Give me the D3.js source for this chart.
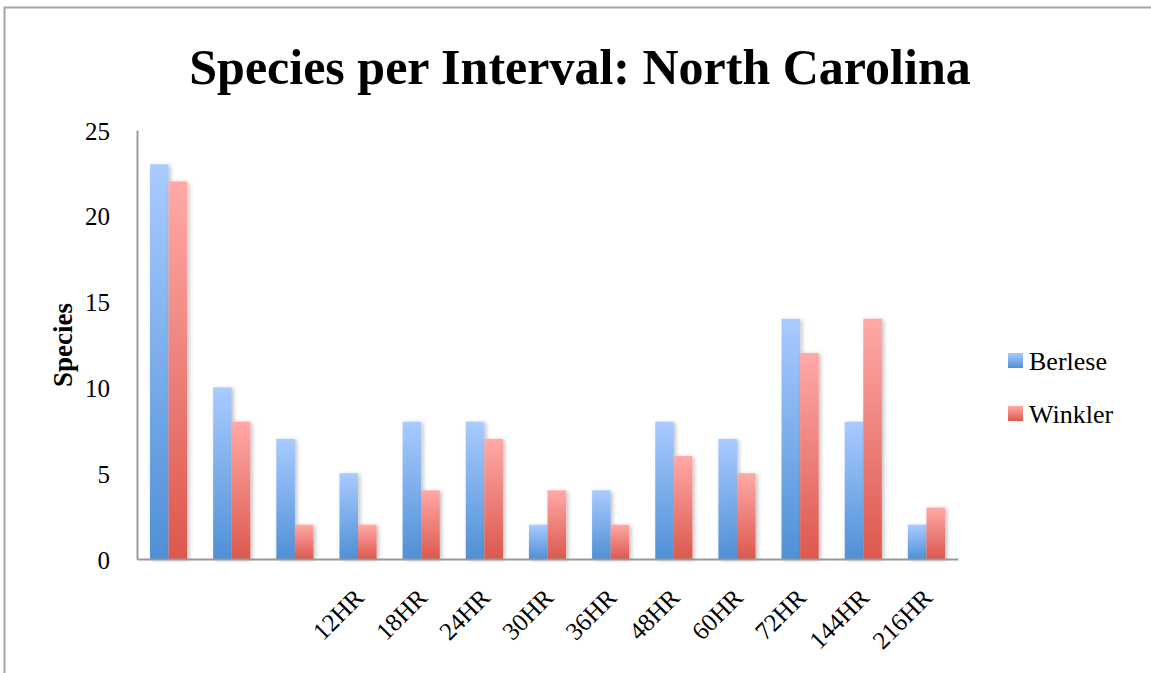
<!DOCTYPE html>
<html>
<head>
<meta charset="utf-8">
<script src="https://cdn.jsdelivr.net/npm/d3@7"></script>
<style>
  html, body { margin: 0; padding: 0; background: #fff; }
  svg { display: block; }
</style>
</head>
<body>
<svg id="chart" width="1151" height="673"></svg>
<script>
// Species counts per extraction interval
const intervals = ["", " ", "  ", "12HR", "18HR", "24HR", "30HR", "36HR", "48HR", "60HR", "72HR", "144HR", "216HR"];
const berlese = [23, 10, 7, 5, 8, 8, 2, 4, 8, 7, 14, 8, 2];
const winkler = [22, 8, 2, 2, 4, 7, 4, 2, 6, 5, 12, 14, 3];
const seriesNames = ["Berlese", "Winkler"];
const yTicks = [0, 5, 10, 15, 20, 25];

const svg = d3.select("#chart");
const W = 1151, H = 673;
const margin = { left: 137, right: 193, top: 130, bottom: 114 };
const plotW = W - margin.left - margin.right;
const plotH = H - margin.top - margin.bottom;

const serif = "'Liberation Serif', 'DejaVu Serif', serif";

// outer frame
svg.append("rect")
  .attr("x", 4.5).attr("y", 7.5)
  .attr("width", W + 10).attr("height", H + 10)
  .attr("fill", "none").attr("stroke", "#a6a6a6").attr("stroke-width", 2);

// gradients and shadow
const defs = svg.append("defs");
const grads = [
  { id: "gBerlese", top: "#a9cbff", bottom: "#4f90d6" },
  { id: "gWinkler", top: "#ffa9a7", bottom: "#dc584d" }
];
grads.forEach(g => {
  const lg = defs.append("linearGradient").attr("id", g.id)
    .attr("x1", 0).attr("y1", 0).attr("x2", 0).attr("y2", 1);
  lg.append("stop").attr("offset", "0%").attr("stop-color", g.top);
  lg.append("stop").attr("offset", "100%").attr("stop-color", g.bottom);
});
const sh = defs.append("filter").attr("id", "shadow")
  .attr("x", "-30%").attr("y", "-10%").attr("width", "170%").attr("height", "120%");
sh.append("feGaussianBlur").attr("in", "SourceAlpha").attr("stdDeviation", 2.2).attr("result", "b");
sh.append("feOffset").attr("in", "b").attr("dx", 2).attr("dy", 1).attr("result", "o");
sh.append("feComponentTransfer").attr("in", "o").attr("result", "s")
  .append("feFuncA").attr("type", "linear").attr("slope", 0.25);
const m = sh.append("feMerge");
m.append("feMergeNode").attr("in", "s");
m.append("feMergeNode").attr("in", "SourceGraphic");

// title
svg.append("text")
  .attr("x", 580).attr("y", 84)
  .attr("text-anchor", "middle")
  .attr("font-family", serif)
  .attr("font-weight", "bold")
  .attr("font-size", 50)
  .attr("fill", "#000")
  .text("Species per Interval: North Carolina");

const g = svg.append("g").attr("transform", `translate(${margin.left},${margin.top})`);

const x0 = d3.scaleBand().domain(d3.range(intervals.length)).range([0, plotW]).paddingInner(0.412).paddingOuter(0.206);
const x1 = d3.scaleBand().domain([0, 1]).range([0, x0.bandwidth()]);
const y = d3.scaleLinear().domain([0, 25]).range([plotH, 0]);

// bars
const rows = intervals.map((c, i) => ({ i, vals: [berlese[i], winkler[i]] }));
const grp = g.selectAll("g.grp").data(rows).join("g")
  .attr("class", "grp")
  .attr("transform", d => `translate(${x0(d.i)},0)`);
grp.selectAll("rect").data(d => d.vals.map((v, k) => ({ v, k }))).join("rect")
  .attr("x", d => x1(d.k))
  .attr("y", d => y(d.v))
  .attr("width", x1.bandwidth())
  .attr("height", d => plotH - y(d.v))
  .attr("fill", d => `url(#${grads[d.k].id})`)
  .attr("filter", "url(#shadow)");

// y axis
const yAxis = g.append("g").call(d3.axisLeft(y).tickValues(yTicks).tickSize(0).tickPadding(27));
yAxis.select(".domain").attr("stroke", "#999").attr("stroke-width", 2);
yAxis.selectAll("text").attr("font-family", serif).attr("font-size", 25).attr("fill", "#000").attr("dy", "0.36em");

// x axis
const xAxis = g.append("g").attr("transform", `translate(0,${plotH})`)
  .call(d3.axisBottom(x0).tickSize(0).tickFormat(i => intervals[i]));
xAxis.select(".domain").attr("stroke", "#999").attr("stroke-width", 2);
xAxis.selectAll("text")
  .attr("font-family", serif).attr("font-size", 25).attr("fill", "#000")
  .attr("text-anchor", "end")
  .attr("dy", "0.35em")
  .attr("transform", "translate(-1,32) rotate(-45)");

// y axis title
svg.append("text")
  .attr("transform", `translate(72,345) rotate(-90)`)
  .attr("text-anchor", "middle")
  .attr("font-family", serif).attr("font-weight", "bold").attr("font-size", 27)
  .text("Species");

// legend
const lg = svg.append("g").attr("transform", "translate(1008,353)");
seriesNames.forEach((n, k) => {
  const row = lg.append("g").attr("transform", `translate(0,${k * 53})`);
  row.append("rect").attr("x", 0).attr("y", 0).attr("width", 15).attr("height", 15)
    .attr("fill", `url(#${grads[k].id})`);
  row.append("text").attr("x", 21).attr("y", 8).attr("dy", "0.35em")
    .attr("font-family", serif).attr("font-size", 26).text(n);
});
</script>
</body>
</html>
